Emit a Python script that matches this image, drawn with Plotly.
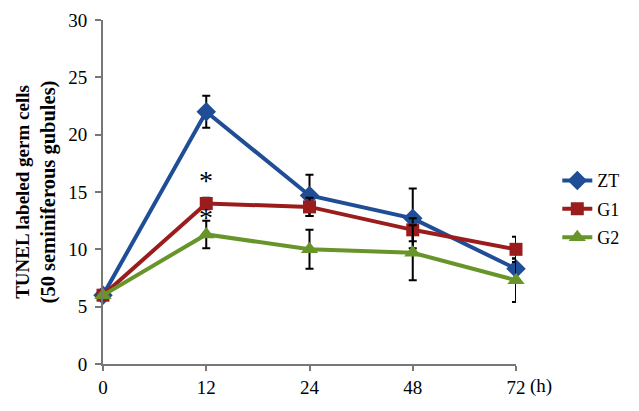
import plotly.graph_objects as go

# time points (h) and group means / error bars
hours = ["0", "12", "24", "48", "72"]
zt = [6, 22, 14.7, 12.7, 8.3]
zt_err = [0, 1.4, 1.8, 2.6, 0.9]
g1 = [6, 14, 13.7, 11.7, 10]
g1_err = [0, 0.5, 0.8, 1.0, 1.1]
g2 = [6, 11.3, 10, 9.7, 7.3]
g2_err = [0, 1.2, 1.7, 2.4, 1.9]

serif = "Liberation Serif, Times New Roman, serif"

series = [
    ("ZT", zt, zt_err, "#1f4e96", "diamond", 15),
    ("G1", g1, g1_err, "#9b1c1c", "square", 13),
    ("G2", g2, g2_err, "#67952a", "triangle-up", 15),
]

fig = go.Figure()
for name, vals, errs, color, symbol, size in series:
    fig.add_trace(go.Scatter(
        x=hours, y=vals, name=name, legendgroup=name,
        mode="lines+markers",
        line=dict(color=color, width=4),
        marker=dict(symbol=symbol, size=size, color=color),
        error_y=dict(type="data", array=errs, color="black", thickness=2, width=4),
        cliponaxis=False,
    ))

# significance marks at 12 h (category index 1)
for ystar in [16.0, 12.8]:
    fig.add_annotation(x=1, y=ystar, text="*", showarrow=False,
                       font=dict(family=serif, size=28, color="black"))
fig.add_annotation(x=1, xref="paper", xanchor="left", xshift=12,
                   y=0, yref="paper", yanchor="top", yshift=-9,
                   text="(h)", showarrow=False,
                   font=dict(family=serif, size=19, color="black"))

# the page body adds an 8px offset, so margins are shifted to compensate
fig.update_layout(
    width=639, height=411,
    margin=dict(l=95, r=131, t=12, b=55),
    paper_bgcolor="white", plot_bgcolor="white",
    font=dict(family=serif, size=19, color="black"),
    legend=dict(x=1.1, y=0.45, xanchor="left", yanchor="middle",
                font=dict(family=serif, size=18), tracegroupgap=2),
    xaxis=dict(type="category", range=[0, 4], showgrid=False, automargin=False,
               showline=True, linecolor="#777", linewidth=2,
               ticks="outside", tickcolor="#777", ticklen=5, tickwidth=2,
               tickfont=dict(size=19)),
    yaxis=dict(range=[0, 30], dtick=5, showgrid=False, zeroline=False, automargin=False,
               showline=True, linecolor="#777", linewidth=2,
               ticks="outside", tickcolor="#777", ticklen=6, tickwidth=2,
               ticklabelstandoff=4, ticklabeloverflow="allow", tickfont=dict(size=19),
               title=dict(text="<b><span style='font-size:19px'>TUNEL labeled germ cells</span><br>"
                               "<span style='font-size:20.5px'>(50 seminiferous gubules)</span></b>",
                          font=dict(size=20), standoff=7)),
)

fig.write_html("out.html")
